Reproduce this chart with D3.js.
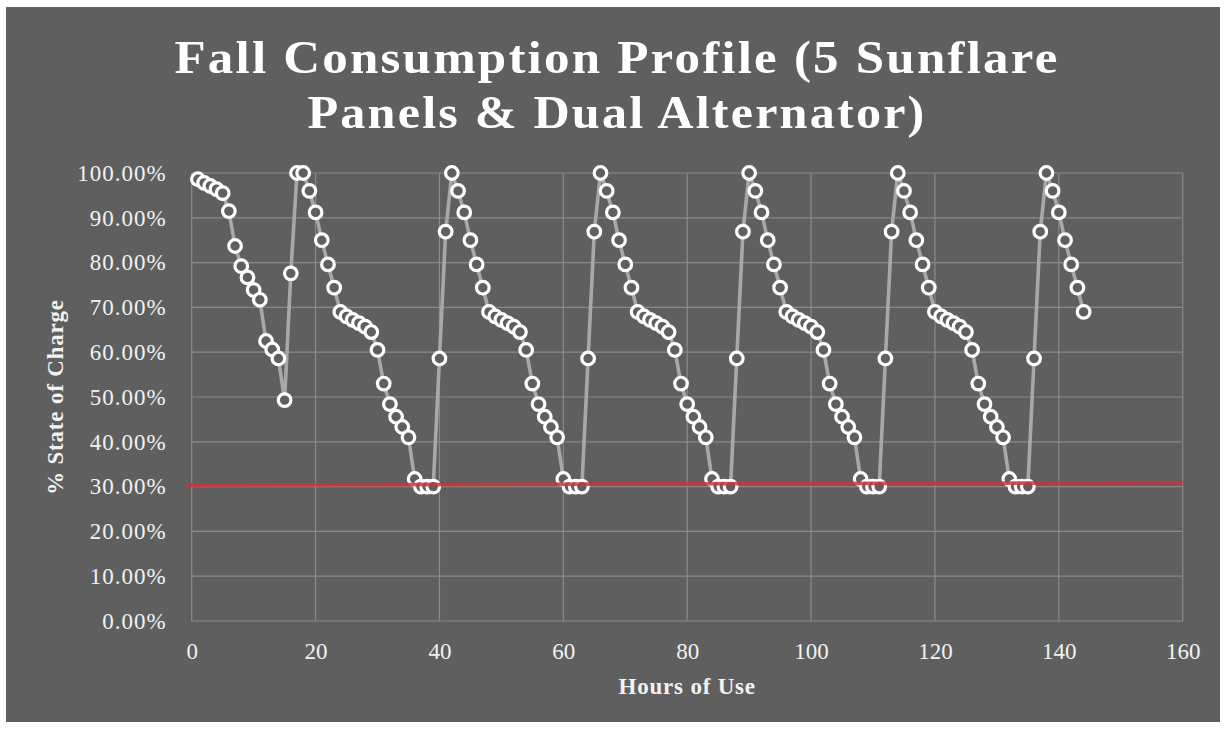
<!DOCTYPE html>
<html>
<head>
<meta charset="utf-8">
<script src="https://cdn.jsdelivr.net/npm/d3@7"></script>
<style>
  body { margin: 0; background: #fff; }
  svg { display: block; }
</style>
</head>
<body>
<svg id="chart"></svg>
<script>
// state of charge, one point per hour (hours 1..144)
const day1 = [0.986, 0.978, 0.971, 0.964, 0.955, 0.915, 0.837, 0.792, 0.767, 0.739, 0.717, 0.625, 0.606, 0.586, 0.493, 0.776, 1.00, 1.00];
const day2 = [0.960, 0.912, 0.850, 0.796, 0.744, 0.690, 0.680, 0.672, 0.665, 0.657, 0.645, 0.605, 0.530, 0.484, 0.456, 0.433, 0.410, 0.317, 0.300, 0.300, 0.300, 0.586, 0.869, 1.00];
const day3 = [0.960, 0.912, 0.850, 0.796, 0.744, 0.690, 0.680, 0.672, 0.665, 0.657, 0.645, 0.605, 0.530, 0.484, 0.456, 0.433, 0.410, 0.317, 0.300, 0.300, 0.300, 0.586, 0.869, 1.00];
const day4 = [0.960, 0.912, 0.850, 0.796, 0.744, 0.690, 0.680, 0.672, 0.665, 0.657, 0.645, 0.605, 0.530, 0.484, 0.456, 0.433, 0.410, 0.317, 0.300, 0.300, 0.300, 0.586, 0.869, 1.00];
const day5 = [0.960, 0.912, 0.850, 0.796, 0.744, 0.690, 0.680, 0.672, 0.665, 0.657, 0.645, 0.605, 0.530, 0.484, 0.456, 0.433, 0.410, 0.317, 0.300, 0.300, 0.300, 0.586, 0.869, 1.00];
const day6 = [0.960, 0.912, 0.850, 0.796, 0.744, 0.690, 0.680, 0.672, 0.665, 0.657, 0.645, 0.605, 0.530, 0.484, 0.456, 0.433, 0.410, 0.317, 0.300, 0.300, 0.300, 0.586, 0.869, 1.00];
const day7 = [0.960, 0.912, 0.850, 0.796, 0.744, 0.690];

// 30% floor line (two end points)
const floorX = [-0.8, 160];
const floorY = [0.3035, 0.3087];

const xTicks = [0, 20, 40, 60, 80, 100, 120, 140, 160];
const yTicks = [0, 0.1, 0.2, 0.3, 0.4, 0.5, 0.6, 0.7, 0.8, 0.9, 1.0];

const titleLines = ["Fall Consumption Profile (5 Sunflare", "Panels & Dual Alternator)"];
const xTitle = "Hours of Use";
const yTitle = "% State of Charge";

const charge = [].concat(day1, day2, day3, day4, day5, day6, day7);
const data = charge.map((v, i) => ({ hour: i + 1, soc: v }));

const width = 1227, height = 730;
const margin = { top: 173, right: 44.3, bottom: 109, left: 191.7 };
const bg = '#5f5f5f';

const svg = d3.select('#chart').attr('width', width).attr('height', height);

svg.append('rect')
  .attr('x', 6).attr('y', 7)
  .attr('width', 1214).attr('height', 715)
  .attr('fill', bg);

const x = d3.scaleLinear().domain([0, 160]).range([margin.left, width - margin.right]);
const y = d3.scaleLinear().domain([0, 1]).range([height - margin.bottom, margin.top]);

// gridlines
svg.append('g').selectAll('line').data(yTicks).join('line')
  .attr('x1', x(0)).attr('x2', x(160))
  .attr('y1', d => y(d)).attr('y2', d => y(d))
  .attr('stroke', '#8a8a8a').attr('stroke-width', 1.2);

svg.append('g').selectAll('line').data(xTicks).join('line')
  .attr('x1', d => x(d)).attr('x2', d => x(d))
  .attr('y1', y(0)).attr('y2', y(1))
  .attr('stroke', '#8a8a8a').attr('stroke-width', 1.2);

// axes (labels only)
const axisX = svg.append('g')
  .attr('transform', 'translate(0,' + y(0) + ')')
  .call(d3.axisBottom(x).tickValues(xTicks).tickSize(0).tickFormat(d3.format('d')));
axisX.select('.domain').remove();
axisX.selectAll('text')
  .attr('y', 38).attr('dy', null)
  .attr('fill', '#f2f2f2')
  .style('font-family', '"Liberation Serif", serif')
  .style('font-size', '23px');

const axisY = svg.append('g')
  .attr('transform', 'translate(' + x(0) + ',0)')
  .call(d3.axisLeft(y).tickValues(yTicks).tickSize(0).tickPadding(25).tickFormat(d3.format('.2%')));
axisY.select('.domain').remove();
axisY.selectAll('text')
  .attr('fill', '#f2f2f2')
  .style('font-family', '"Liberation Serif", serif')
  .style('font-size', '23px')
  .style('letter-spacing', '1px');

// series line
svg.append('path')
  .datum(data)
  .attr('fill', 'none')
  .attr('stroke', '#a8a8a8')
  .attr('stroke-width', 3.6)
  .attr('stroke-linejoin', 'round')
  .attr('d', d3.line().x(d => x(d.hour)).y(d => y(d.soc)));

svg.append('g').selectAll('circle').data(data).join('circle')
  .attr('cx', d => x(d.hour))
  .attr('cy', d => y(d.soc))
  .attr('r', 6.3)
  .attr('fill', bg)
  .attr('stroke', '#ffffff')
  .attr('stroke-width', 3.2);

// 30% line
const floorData = floorX.map((v, i) => ({ hour: v, soc: floorY[i] }));
svg.append('path')
  .datum(floorData)
  .attr('fill', 'none')
  .attr('stroke', '#c8353a')
  .attr('stroke-opacity', 0.85)
  .attr('stroke-width', 3.8)
  .attr('d', d3.line().x(d => x(d.hour)).y(d => y(d.soc)));

// titles
const titleWidths = [885, 619];
svg.append('g').selectAll('text').data(titleLines).join('text')
  .attr('x', 617)
  .attr('y', (d, i) => 73 + i * 55)
  .attr('text-anchor', 'middle')
  .attr('textLength', (d, i) => titleWidths[i])
  .attr('lengthAdjust', 'spacingAndGlyphs')
  .attr('fill', '#ffffff')
  .style('font-family', '"Liberation Serif", serif')
  .style('font-weight', 'bold')
  .style('font-size', '46px')
  .style('letter-spacing', '2px')
  .text(d => d);

svg.append('text')
  .attr('x', (x(0) + x(160)) / 2)
  .attr('y', 694)
  .attr('text-anchor', 'middle')
  .attr('fill', '#f2f2f2')
  .style('font-family', '"Liberation Serif", serif')
  .style('font-weight', 'bold')
  .style('font-size', '23px')
  .style('letter-spacing', '0.8px')
  .text(xTitle);

svg.append('text')
  .attr('transform', 'translate(63,' + (y(0) + y(1)) / 2 + ') rotate(-90)')
  .attr('text-anchor', 'middle')
  .attr('fill', '#f2f2f2')
  .style('font-family', '"Liberation Serif", serif')
  .style('font-weight', 'bold')
  .style('font-size', '23px')
  .style('letter-spacing', '0.8px')
  .text(yTitle);
</script>
</body>
</html>
